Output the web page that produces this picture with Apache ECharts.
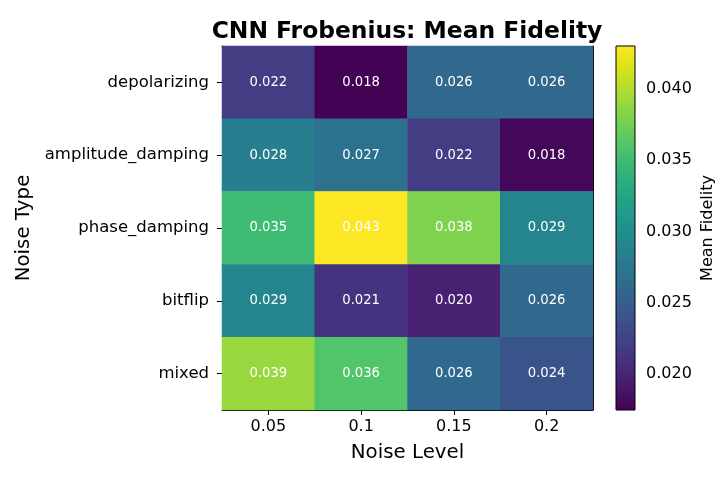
<!DOCTYPE html>
<html>
<head>
<meta charset="utf-8">
<script src="https://cdn.jsdelivr.net/npm/echarts@6/dist/echarts.min.js"></script>
<style>
html,body{margin:0;padding:0;background:#fff;}
#chart{width:720px;height:480px;}
</style>
</head>
<body>
<div id="chart"></div>
<script>
// ---- data ----
const noiseLevels = ['0.05', '0.1', '0.15', '0.2'];
const noiseTypes = ['depolarizing', 'amplitude_damping', 'phase_damping', 'bitflip', 'mixed'];
const depolarizing = [0.0220, 0.0176, 0.0260, 0.0260];
const amplitudeDamping = [0.0283, 0.0270, 0.0220, 0.0179];
const phaseDamping = [0.0350, 0.0430, 0.0380, 0.0290];
const bitflip = [0.0290, 0.0212, 0.0198, 0.0260];
const mixed = [0.0390, 0.0360, 0.0260, 0.0240];
const colorbarRange = [0.0175, 0.0430];
const colorbarTicks = [0.020, 0.025, 0.030, 0.035, 0.040];

const viridis = ['#440154','#48186a','#472d7b','#424086','#3b528b','#33638d','#2c728e','#26828e',
  '#21918c','#1fa088','#28ae80','#3fbc73','#5ec962','#84d44b','#addc30','#d8e219','#fde725'];

const rows = [depolarizing, amplitudeDamping, phaseDamping, bitflip, mixed];
const heatData = [];
rows.forEach((row, yi) => row.forEach((v, xi) => heatData.push([xi, yi, v])));

const FONT = 'DejaVu Sans';
const chart = echarts.init(document.getElementById('chart'), null, {renderer: 'canvas'});

const gradStops = viridis.map((c, i) => ({offset: 1 - i / (viridis.length - 1), color: c}));

chart.setOption({
  backgroundColor: '#fff',
  animation: false,
  textStyle: {fontFamily: FONT},
  title: {
    text: 'CNN Frobenius: Mean Fidelity',
    left: 402, top: 15, textAlign: 'center',
    textStyle: {fontFamily: FONT, fontWeight: 'bold', fontSize: 23.4, color: '#000'}
  },
  grid: [
    {left: 222, right: 127, top: 46, bottom: 70, containLabel: false},
    {left: 616, width: 19, top: 46, bottom: 70, containLabel: false}
  ],
  xAxis: [
    {
      type: 'category', gridIndex: 0, data: noiseLevels, position: 'bottom',
      name: 'Noise Level', nameLocation: 'middle', nameGap: 33,
      nameTextStyle: {fontFamily: FONT, fontSize: 19.8, color: '#000'},
      axisLine: {show: true, lineStyle: {color: '#000', width: 1}},
      axisTick: {show: true, alignWithLabel: true, length: 5, lineStyle: {color: '#000'}},
      axisLabel: {fontFamily: FONT, fontSize: 16, color: '#000', margin: 9},
      splitLine: {show: false}, splitArea: {show: false}
    },
    {
      type: 'category', gridIndex: 0, data: noiseLevels, position: 'top',
      axisLine: {show: true, lineStyle: {color: '#000', width: 1}},
      axisTick: {show: false}, axisLabel: {show: false}, splitLine: {show: false}
    },
    {
      type: 'value', gridIndex: 1, min: 0, max: 1, show: false
    }
  ],
  yAxis: [
    {
      type: 'category', gridIndex: 0, data: noiseTypes, inverse: true, position: 'left',
      name: 'Noise Type', nameLocation: 'middle', nameGap: 182, nameRotate: 90,
      nameTextStyle: {fontFamily: FONT, fontSize: 19.8, color: '#000'},
      axisLine: {show: true, lineStyle: {color: '#000', width: 1}},
      axisTick: {show: true, alignWithLabel: true, length: 5, lineStyle: {color: '#000'}},
      axisLabel: {fontFamily: FONT, fontSize: 16.5, color: '#000', margin: 13},
      splitLine: {show: false}, splitArea: {show: false}
    },
    {
      type: 'category', gridIndex: 0, data: noiseTypes, inverse: true, position: 'right',
      axisLine: {show: true, lineStyle: {color: '#000', width: 1}},
      axisTick: {show: false}, axisLabel: {show: false}, splitLine: {show: false}
    },
    {
      type: 'value', gridIndex: 1, position: 'right',
      min: colorbarRange[0], max: colorbarRange[1],
      name: 'Mean Fidelity', nameLocation: 'middle', nameGap: 65, nameRotate: 90,
      nameTextStyle: {fontFamily: FONT, fontSize: 16, color: '#000'},
      axisLine: {show: false},
      axisTick: {show: true, length: 5, customValues: colorbarTicks, lineStyle: {color: '#000'}},
      axisLabel: {fontFamily: FONT, fontSize: 16, color: '#000', margin: 11,
        customValues: colorbarTicks, formatter: v => v.toFixed(3)},
      splitLine: {show: false}
    }
  ],
  visualMap: {
    show: false, type: 'continuous', seriesIndex: 0,
    min: colorbarRange[0], max: colorbarRange[1],
    inRange: {color: viridis}
  },
  series: [
    {
      type: 'heatmap', xAxisIndex: 0, yAxisIndex: 0,
      data: heatData,
      label: {show: true, color: '#fff', fontFamily: FONT, fontSize: 13.2,
        formatter: p => p.data[2].toFixed(3)},
      itemStyle: {borderWidth: 0},
      emphasis: {disabled: true}
    },
    {
      type: 'custom', xAxisIndex: 2, yAxisIndex: 2,
      data: [[0, colorbarRange[0], 1, colorbarRange[1]]],
      renderItem: function (params, api) {
        const p0 = api.coord([api.value(0), api.value(3)]);
        const p1 = api.coord([api.value(2), api.value(1)]);
        return {
          type: 'rect',
          shape: {x: p0[0], y: p0[1], width: p1[0] - p0[0], height: p1[1] - p0[1]},
          style: {
            fill: new echarts.graphic.LinearGradient(0, 0, 0, 1, gradStops),
            stroke: '#000', lineWidth: 1
          }
        };
      },
      silent: true
    }
  ]
});
</script>
</body>
</html>
